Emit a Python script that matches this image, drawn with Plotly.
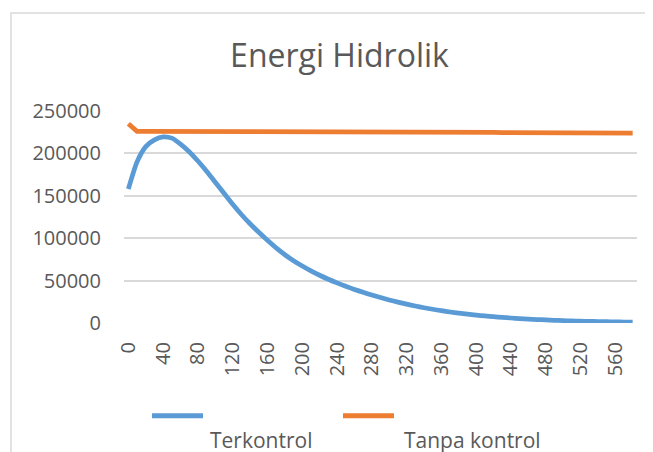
import plotly.graph_objects as go

# Categories (time)
categories = list(range(0, 590, 10))

# Series values
terkontrol = [
    158000, 190000, 208000, 216000, 219500, 218000, 211000, 202000, 191000, 179000,
    166000, 153000, 140000, 128000, 117000, 107000, 97500, 88500, 80500, 73500,
    67200, 61500, 56300, 51600, 47300, 43300, 39600, 36200, 33000, 30000,
    27200, 24600, 22200, 20000, 18000, 16200, 14500, 13000, 11600, 10400,
    9300, 8300, 7400, 6600, 5900, 5200, 4600, 4100, 3600, 3200,
    2800, 2500, 2200, 1900, 1700, 1500, 1300, 1100, 1000,
]
tanpa_kontrol = [
    235000, 226000, 226000, 226000, 226000, 226000, 225900, 225900, 225900, 225900,
    225800, 225800, 225800, 225800, 225700, 225700, 225700, 225600, 225600, 225600,
    225500, 225500, 225500, 225400, 225400, 225400, 225300, 225300, 225200, 225200,
    225200, 225100, 225100, 225000, 225000, 225000, 224900, 224900, 224800, 224800,
    224800, 224700, 224700, 224600, 224600, 224500, 224500, 224500, 224400, 224400,
    224300, 224300, 224200, 224200, 224100, 224100, 224000, 224000, 223900,
]

series_names = ["Terkontrol", "Tanpa kontrol"]
series_colors = ["#5B9BD5", "#ED7D31"]
series_shapes = ["spline", "linear"]

x_tickvals = list(range(0, 600, 40))
x_ticktext = [str(v) for v in x_tickvals]
y_tickvals = [0, 50000, 100000, 150000, 200000, 250000]
y_ticktext = [str(v) for v in y_tickvals]

OFF = 8  # page body margin
W, H = 653 - OFF, 452 - OFF
PL, PR, PT, PB = 124, 637, 111, 323  # plot area in page pixels
L, T = PL - OFF, PT - OFF
R, B = W - (PR - OFF), H - (PB - OFF)
pw, ph = PR - PL, PB - PT

def px_x(p):
    return (p - PL) / pw

def px_y(p):
    return (PB - p) / ph

FONT = "Open Sans"
TXT = "#595959"
GRID = "#D9D9D9"

fig = go.Figure()
for name, vals, col, shp in zip(series_names, [terkontrol, tanpa_kontrol], series_colors, series_shapes):
    fig.add_trace(go.Scatter(x=categories, y=vals, mode="lines", name=name,
                             line=dict(color=col, width=4.75, shape=shp, smoothing=0.6),
                             showlegend=False))

fig.update_layout(
    width=W, height=H,
    margin=dict(l=L, r=R, t=T, b=B, pad=0),
    paper_bgcolor="white", plot_bgcolor="white",
    font=dict(family=FONT, color=TXT, size=20),
    title=dict(text="Energi Hidrolik", x=(339.5 - OFF) / W, xanchor="center", xref="container",
               y=1 - (56 - OFF) / H, yanchor="middle", yref="container",
               font=dict(family=FONT, size=32, color=TXT)),
    xaxis=dict(range=[-5, 585], tickmode="array", tickvals=x_tickvals, ticktext=x_ticktext,
               tickangle=-90, showgrid=False, zeroline=False, showline=False,
               ticks="outside", ticklen=10, tickcolor="rgba(0,0,0,0)",
               tickfont=dict(family=FONT, size=20, color=TXT)),
    yaxis=dict(range=[0, 250000], tickmode="array", tickvals=y_tickvals, ticktext=y_ticktext,
               showgrid=True, gridcolor=GRID, gridwidth=1.5, zeroline=False, showline=False,
               ticks="outside", ticklen=18, tickcolor="rgba(0,0,0,0)",
               tickfont=dict(family=FONT, size=20, color=TXT)),
    showlegend=False,
)

shapes = []
# chart border (extends beyond visible page)
shapes.append(dict(type="rect", xref="paper", yref="paper",
                   x0=px_x(11), x1=px_x(700), y0=px_y(520), y1=px_y(13),
                   line=dict(color=GRID, width=1.5), fillcolor="rgba(0,0,0,0)", layer="below"))
# legend symbols
leg_pos = [(152, 203, 208), (343, 394, 402)]
for (a, b, t), name, col in zip(leg_pos, series_names, series_colors):
    shapes.append(dict(type="line", xref="paper", yref="paper",
                       x0=px_x(a), x1=px_x(b), y0=px_y(415.7), y1=px_y(415.7),
                       line=dict(color=col, width=5)))
    fig.add_annotation(text=name, xref="paper", yref="paper", x=px_x(t), y=px_y(440),
                       xanchor="left", yanchor="middle", showarrow=False,
                       font=dict(family=FONT, size=21, color=TXT))
fig.update_layout(shapes=shapes)

fig.write_html("out.html")
